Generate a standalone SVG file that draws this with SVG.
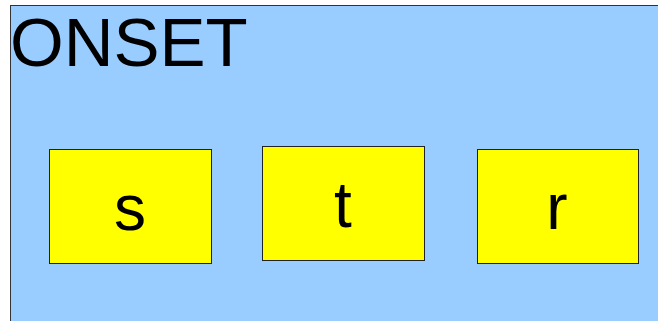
<svg xmlns="http://www.w3.org/2000/svg" width="658" height="321" viewBox="0 0 658 321">
<style>
.bg{fill:#99ccff;stroke:#333;stroke-width:1}
.box{fill:#ffff00;stroke:#222;stroke-width:1}
.lbl{font-family:"Liberation Sans",Arial,sans-serif;font-size:64px;fill:#000;text-anchor:middle}
.title{font-family:"Liberation Sans",Arial,sans-serif;font-size:69px;fill:#000}
</style>
<rect width="658" height="321" fill="#fff"/>
<g id="onset">
<rect class="bg" x="10.5" y="5.5" width="660" height="330"/>
<text class="title" x="10" y="66">ONSET</text>
</g>
<g id="node-s">
<rect class="box" x="49.5" y="149.5" width="162" height="114"/>
<text class="lbl" x="130" y="230">s</text>
</g>
<g id="node-t">
<rect class="box" x="262.5" y="146.5" width="162" height="114"/>
<text class="lbl" x="343" y="227">t</text>
</g>
<g id="node-r">
<rect class="box" x="477.5" y="149.5" width="161" height="114"/>
<text class="lbl" x="557" y="229">r</text>
</g>
<g id="connectors"></g>
</svg>
